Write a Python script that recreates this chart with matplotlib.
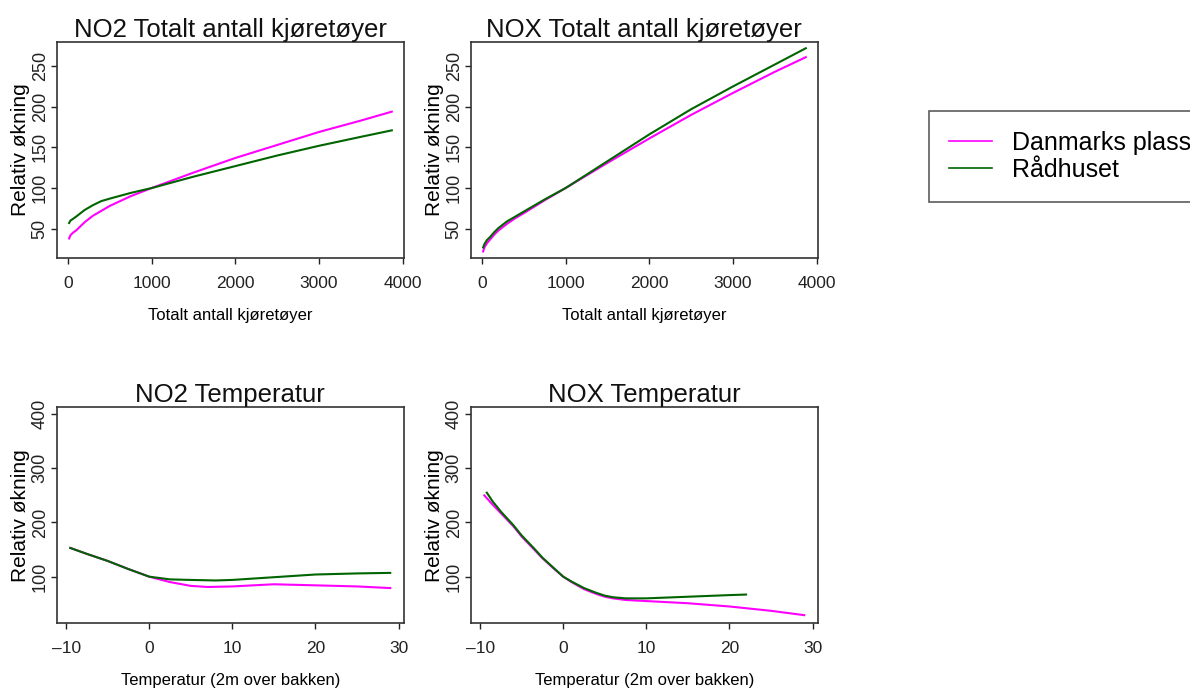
import numpy as np
import matplotlib
matplotlib.use("Agg")
import matplotlib.pyplot as plt
from matplotlib.lines import Line2D

# --- data -------------------------------------------------------------------
kjt_x = [15, 30, 60, 100, 150, 200, 300, 400, 500, 750, 1000, 1500, 2000, 2500, 3000, 3500, 3870]
no2_kjt_dp = [38, 42, 45, 48, 53, 58, 66, 72, 78, 90, 100, 119, 137, 153, 169, 183, 194]
no2_kjt_rh = [57, 60, 62, 65, 69, 73, 79, 84, 87, 94, 100, 114, 127, 140, 152, 163, 171]
nox_kjt_dp = [22, 27, 32, 37, 43, 48, 56, 63, 69, 85, 100, 131, 161, 190, 217, 243, 261]
nox_kjt_rh = [27, 31, 36, 40, 46, 51, 59, 65, 71, 86, 100, 133, 166, 197, 225, 252, 272]

temp_x_dp = [-9.5, -7.5, -5, -2.5, 0, 2.5, 5, 7, 10, 15, 20, 25, 29]
no2_temp_dp = [153, 142, 129, 114, 100, 90, 83, 81, 82, 86, 84, 82, 79]
temp_x_rh = [-9.5, -7.5, -5, -2.5, 0, 2.5, 5, 8, 10, 15, 20, 25, 29]
no2_temp_rh = [153, 142, 129, 114, 100, 95, 94, 93, 94, 99, 104, 106, 107]

noxt_x_dp = [-9.5, -8.5, -7.5, -6, -5, -3.5, -2.5, -1, 0, 1, 2.5, 4, 5, 6, 7.5, 10, 15, 20, 25, 29]
nox_temp_dp = [250, 233, 217, 193, 174, 150, 134, 113, 100, 90, 77, 68, 63, 60, 57, 55, 51, 45, 37, 29]
noxt_x_rh = [-9.2, -8.5, -7.5, -6, -5, -3.5, -2.5, -1, 0, 1, 2.5, 4, 5, 6, 7.5, 10, 15, 20, 22]
nox_temp_rh = [255, 239, 220, 195, 176, 152, 135, 114, 100, 91, 79, 70, 65, 62, 60, 60, 63, 66, 67]

stasjoner = ["Danmarks plass", "Rådhuset"]
farger = ["#ff00ff", "#006400"]

font = ["Liberation Sans", "DejaVu Sans"]
plt.rcParams["font.family"] = font

fig = plt.figure(figsize=(11.9, 6.92), dpi=100)

def panel(rect, title, xlab, xt, xlim, yt, ylim, serier):
    ax = fig.add_axes(rect)
    for (x, y), c in zip(serier, farger):
        ax.plot(x, y, color=c, lw=1.5)
    ax.set_xlim(*xlim)
    ax.set_ylim(*ylim)
    ax.set_xticks(xt)
    ax.set_yticks(yt)
    ax.set_xticklabels([str(v).replace("-", "\u2013") for v in xt], fontsize=12.5)
    ax.set_yticklabels([str(v) for v in yt], fontsize=13, rotation=90, va="center")
    ax.tick_params(direction="out", length=4, width=1, pad=9, colors="#222222")
    ax.tick_params(axis="y", pad=2)
    for s in ax.spines.values():
        s.set_color("#333333")
        s.set_linewidth(1.2)
    ax.set_title(title, fontsize=18.5, pad=0, color="#111111")
    ax.set_xlabel(xlab, fontsize=12, labelpad=12)
    ax.set_ylabel("Relativ økning", fontsize=15, labelpad=1)
    return ax

xl = 0.0479
xr = 0.3958
w = 0.2912
bt = 0.6272
bb = 0.0993
h = 0.3125

panel([xl, bt, w, h], "NO2 Totalt antall kjøretøyer", "Totalt antall kjøretøyer",
      [0, 1000, 2000, 3000, 4000], (-130, 4010), [50, 100, 150, 200, 250], (14, 280),
      [(kjt_x, no2_kjt_dp), (kjt_x, no2_kjt_rh)])
panel([xr, bt, w, h], "NOX Totalt antall kjøretøyer", "Totalt antall kjøretøyer",
      [0, 1000, 2000, 3000, 4000], (-130, 4010), [50, 100, 150, 200, 250], (14, 280),
      [(kjt_x, nox_kjt_dp), (kjt_x, nox_kjt_rh)])
panel([xl, bb, w, h], "NO2 Temperatur", "Temperatur (2m over bakken)",
      [-10, 0, 10, 20, 30], (-11.1, 30.6), [100, 200, 300, 400], (14, 413),
      [(temp_x_dp, no2_temp_dp), (temp_x_rh, no2_temp_rh)])
panel([xr, bb, w, h], "NOX Temperatur", "Temperatur (2m over bakken)",
      [-10, 0, 10, 20, 30], (-11.1, 30.6), [100, 200, 300, 400], (14, 413),
      [(noxt_x_dp, nox_temp_dp), (noxt_x_rh, nox_temp_rh)])

handles = [Line2D([], [], color=c, lw=1.2) for c in farger]
leg = fig.legend(handles, stasjoner, loc="upper left", bbox_to_anchor=(929 / 1190, 1 - 111 / 692),
                 prop={"size": 18}, frameon=True, fancybox=False,
                 edgecolor="#333333", labelspacing=0.12, handlelength=1.7,
                 handletextpad=0.8, borderpad=0.8, borderaxespad=0)
leg.get_frame().set_linewidth(1.2)

fig.savefig("out.png", dpi=100)
